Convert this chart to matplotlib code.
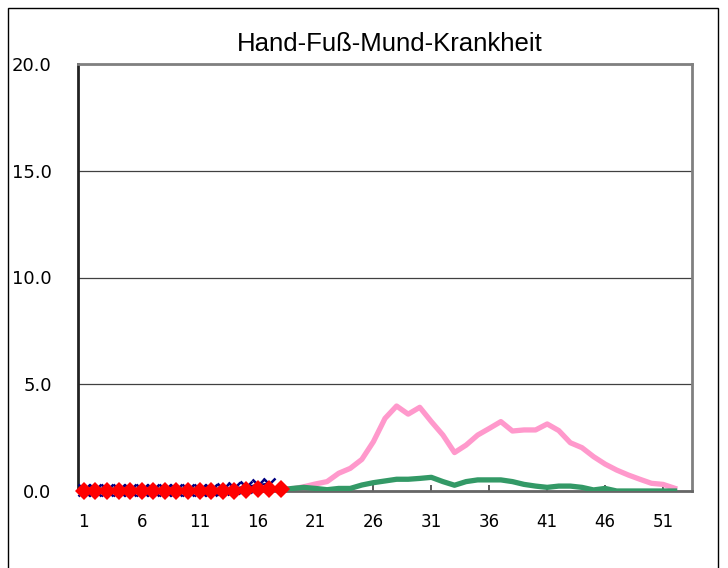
"""Hand-Fuss-Mund-Krankheit: weekly cases per sentinel site, current vs. previous years."""
import matplotlib
matplotlib.use("Agg")
import matplotlib.pyplot as plt
from matplotlib.patches import Rectangle
from matplotlib.ticker import FixedLocator, FormatStrFormatter

TITLE = "Hand-Fuß-Mund-Krankheit"

weeks = list(range(1, 53))
# previous season (pink) and the one before (green), weeks 1..52
pink = [0.1] * 18 + [0.1, 0.2, 0.33, 0.44, 0.83, 1.06, 1.48, 2.31, 3.4, 3.98,
                     3.6, 3.92, 3.25, 2.62, 1.8, 2.15, 2.62, 2.93, 3.25, 2.81,
                     2.86, 2.86, 3.14, 2.83, 2.26, 2.03, 1.61, 1.26, 0.98, 0.75,
                     0.55, 0.36, 0.31, 0.13]
green = [0.05] * 17 + [0.05, 0.12, 0.17, 0.12, 0.06, 0.12, 0.12, 0.28, 0.39,
                       0.47, 0.55, 0.55, 0.59, 0.64, 0.44, 0.27, 0.44, 0.52,
                       0.52, 0.52, 0.44, 0.31, 0.23, 0.17, 0.23, 0.23, 0.17,
                       0.05, 0.12, 0.0, 0.0, 0.0, 0.0, 0.0, 0.0]
# current season so far
blue_weeks = list(range(1, 18))
blue = [0.05] * 12 + [0.08, 0.12, 0.2, 0.28, 0.35]
red_weeks = list(range(1, 19))
red = [0.02] * 14 + [0.05, 0.08, 0.1, 0.1]

xtick_weeks = [1, 6, 11, 16, 21, 26, 31, 36, 41, 46, 51]
ytick_vals = [0, 5, 10, 15, 20]

W, H = 728, 568
fig = plt.figure(figsize=(W / 100, H / 100), dpi=100)
fig.patch.set_facecolor("white")

# outer chart frame (bottom edge runs off the image)
fig.patches.append(Rectangle((8 / W, -0.05), 710 / W, 1.05 - 8 / H,
                             transform=fig.transFigure, fill=False,
                             edgecolor="black", lw=1.0))

ax = fig.add_axes([78 / W, 1 - 491 / H, 614 / W, 427 / H])
ax.set_xlim(0.5, 53.5)
ax.set_ylim(0, 20)

ax.plot(weeks, pink, color="#FF99CC", lw=3.8, solid_joinstyle="round", zorder=2)
ax.plot(weeks, green, color="#339966", lw=3.8, solid_joinstyle="round", zorder=3)
ax.plot(blue_weeks, blue, color="#000080", lw=1.5, marker="x", ms=9, mew=1.8,
        zorder=4, clip_on=False)
ax.plot(red_weeks, red, color="#FF0000", lw=2.5, marker="D", ms=9.5, mew=0,
        zorder=5, clip_on=False)

ax.yaxis.set_major_locator(FixedLocator(ytick_vals))
ax.yaxis.set_major_formatter(FormatStrFormatter("%.1f"))
ax.xaxis.set_major_locator(FixedLocator(xtick_weeks))
ax.grid(axis="y", color="#404040", lw=0.9)
ax.set_axisbelow(True)

ax.tick_params(axis="y", length=0, pad=19, labelsize=13)
ax.tick_params(axis="x", direction="in", length=4, width=1.2, color="#404040",
               pad=16, labelsize=12)
for lab in ax.get_yticklabels() + ax.get_xticklabels():
    lab.set_family("DejaVu Sans")

ax.spines["left"].set_color("#222222")
ax.spines["left"].set_linewidth(2.0)
ax.spines["bottom"].set_color("#666666")
ax.spines["bottom"].set_linewidth(2.0)
for s in ("top", "right"):
    ax.spines[s].set_color("#808080")
    ax.spines[s].set_linewidth(2.0)

fig.text(390 / W, 1 - 44 / H, TITLE, ha="center", va="center",
         fontsize=18.5, family="Liberation Sans")

fig.savefig("out.png", dpi=100)
